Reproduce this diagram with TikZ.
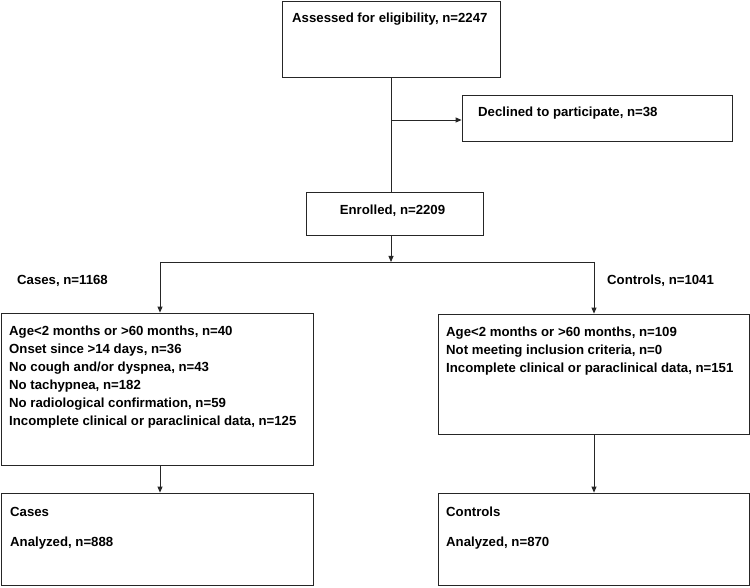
\documentclass[tikz,border=0pt]{standalone}
\usepackage{fontspec}
\setmainfont{Liberation Sans}
\usetikzlibrary{arrows.meta}
\begin{document}
\begin{tikzpicture}[x=1pt,y=-1pt,
  box/.style={draw=black!85,line width=0.8pt,inner sep=0pt,minimum width=#1},
  lbl/.style={anchor=west,inner sep=0pt,font=\fontsize{13.2}{18}\selectfont\bfseries},
  conn/.style={draw=black!85,line width=0.8pt},
  arr/.style={conn,-{Triangle[length=6pt,width=5pt]}}]
\useasboundingbox (0,0) rectangle (750,588);
\fill[white] (0,0) rectangle (750,588);
% boxes
\node[box=218pt,minimum height=76pt] (A) at (391,39) {};
\node[box=270pt,minimum height=46pt] (D) at (597,118) {};
\node[box=177pt,minimum height=43pt] (E) at (394.5,213.5) {};
\node[box=312pt,minimum height=152pt] (L1) at (157,389) {};
\node[box=311pt,minimum height=120pt] (R1) at (593.5,374) {};
\node[box=312pt,minimum height=92pt] (L2) at (157,539) {};
\node[box=311pt,minimum height=92pt] (R2) at (593.5,539) {};
% texts
\node[lbl] (tA) at (292,19) {Assessed for eligibility, n=2247};
\node[lbl] (tD) at (478,113) {Declined to participate, n=38};
\node[lbl,anchor=center] (tE) at (392.5,211) {Enrolled, n=2209};
\node[lbl] (tCases) at (17,281) {Cases, n=1168};
\node[lbl] (tControls) at (607,281) {Controls, n=1041};
\node[lbl] (l1) at (9,332) {Age<2 months or >60 months, n=40};
\node[lbl] (l2) at (9,350) {Onset since >14 days, n=36};
\node[lbl] (l3) at (9,368) {No cough and/or dyspnea, n=43};
\node[lbl] (l4) at (9,386) {No tachypnea, n=182};
\node[lbl] (l5) at (9,404) {No radiological confirmation, n=59};
\node[lbl] (l6) at (9,422) {Incomplete clinical or paraclinical data, n=125};
\node[lbl] (r1) at (446,333) {Age<2 months or >60 months, n=109};
\node[lbl] (r2) at (446,351) {Not meeting inclusion criteria, n=0};
\node[lbl] (r3) at (446,369) {Incomplete clinical or paraclinical data, n=151};
\node[lbl] (c1) at (10,512) {Cases};
\node[lbl] (c2) at (10,543) {Analyzed, n=888};
\node[lbl] (k1) at (446,512) {Controls};
\node[lbl] (k2) at (446,543) {Analyzed, n=870};
% connectors
\coordinate (split) at (391,262);
\coordinate (lsplit) at (160,262);
\coordinate (rsplit) at (594,262);
\coordinate (dec) at (391,120);
\draw[conn] (A.south) -- (A.south |- E.north);
\draw[arr] (dec) -- (D.west |- dec);
\draw[arr] (split |- E.south) -- (split);
\draw[conn] (lsplit) -- (rsplit);
\draw[arr] (lsplit) -- (lsplit |- L1.north);
\draw[arr] (rsplit) -- (rsplit |- R1.north);
\draw[arr] (lsplit |- L1.south) -- (lsplit |- L2.north);
\draw[arr] (rsplit |- R1.south) -- (rsplit |- R2.north);
\end{tikzpicture}
\end{document}
